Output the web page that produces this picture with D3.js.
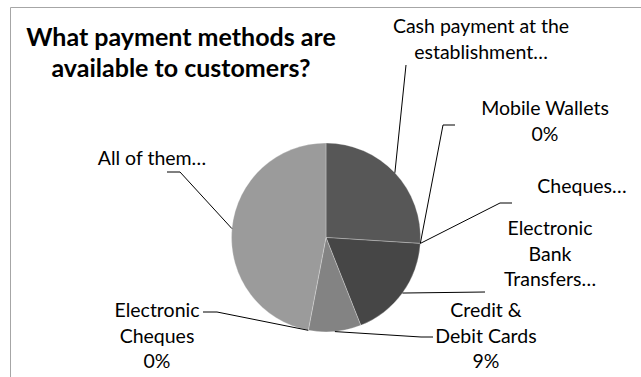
<!DOCTYPE html>
<html>
<head>
<meta charset="utf-8">
<script src="https://cdn.jsdelivr.net/npm/d3@7"></script>
<style>
  html, body { margin: 0; padding: 0; background: #ffffff; }
  svg { display: block; }
  text { font-family: Lato, "Open Sans", sans-serif; fill: #000; }
</style>
</head>
<body>
<svg id="chart" width="641" height="377"></svg>
<script>
// ---- data ----
const categories = [
  "Cash payment at the establishment",
  "Mobile Wallets",
  "Cheques",
  "Electronic Bank Transfers",
  "Credit & Debit Cards",
  "Electronic Cheques",
  "All of them"
];
const shares = [26, 0, 0, 18, 9, 0, 47];
// Label text as shown on the chart; long labels are cut with an ellipsis,
// "{p}" is replaced by the formatted share.
const labelTemplates = [
  ["Cash payment at the", "establishment…"],
  ["Mobile Wallets", "{p}"],
  ["Cheques…"],
  ["Electronic", "Bank", "Transfers…"],
  ["Credit &", "Debit Cards", "{p}"],
  ["Electronic", "Cheques", "{p}"],
  ["All of them…"]
];
const titleLines = ["What payment methods are", "available to customers?"];

// ---- layout ----
const W = 641, H = 377;
const cx = 326, cy = 237.5, R = 94.5;
const sliceColors = ["#575757", "#575757", "#575757", "#464646", "#838383", "#838383", "#9b9b9b"];
// label block: centre x, first baseline y; leader: bend points from label side toward the pie
const labelLayout = [
  { x: 481, y: 33,  leader: [[406, 65]] },
  { x: 545, y: 115, leader: [[455, 125], [443, 125]] },
  { x: 582, y: 193, leader: [[512, 203], [500, 203]] },
  { x: 550, y: 235, leader: [[485, 292]] },
  { x: 486, y: 317, leader: [[433, 337], [421, 337]] },
  { x: 157, y: 317, leader: [[203, 312], [217, 312]] },
  { x: 152, y: 165, leader: [[167, 172], [180, 172]] }
];
const lineGap = 25.5;

const svg = d3.select("#chart");

// chart area frame (top and left edges visible)
svg.append("path")
  .attr("d", `M10.5,${H} L10.5,7.5 L${W},7.5`)
  .attr("fill", "none")
  .attr("stroke", "#a6a6a6")
  .attr("stroke-width", 1);

// title
const title = svg.append("text")
  .attr("text-anchor", "middle")
  .attr("font-weight", "bold")
  .attr("font-size", 25);
title.selectAll("tspan").data(titleLines).join("tspan")
  .attr("x", 181)
  .attr("y", (d, i) => 46 + i * 31)
  .text(d => d);

// pie
const rows = categories.map((c, i) => ({ name: c, value: shares[i], i }));
const pie = d3.pie().sort(null).value(d => d.value);
const arcs = pie(rows);
const arc = d3.arc().innerRadius(0).outerRadius(R);

const g = svg.append("g").attr("transform", `translate(${cx},${cy})`);
g.selectAll("path.slice").data(arcs.filter(a => a.data.value > 0)).join("path")
  .attr("class", "slice")
  .attr("d", arc)
  .attr("fill", d => sliceColors[d.data.i])
  .attr("stroke", "rgba(255,255,255,0.35)")
  .attr("stroke-width", 0.8);

// leader lines from slice mid-angle on the rim to the label
const fmt = d3.format(".0%");
arcs.forEach(a => {
  const mid = (a.startAngle + a.endAngle) / 2;
  const rim = [cx + R * Math.sin(mid), cy - R * Math.cos(mid)];
  const lay = labelLayout[a.data.i];
  const pts = lay.leader.concat([rim]);
  svg.append("path")
    .attr("d", d3.line()(pts))
    .attr("fill", "none")
    .attr("stroke", "#000")
    .attr("stroke-width", 1);

  const lines = labelTemplates[a.data.i].map(t => t.replace("{p}", fmt(a.data.value / 100)));
  const t = svg.append("text")
    .attr("text-anchor", "middle")
    .attr("font-size", 19.5);
  t.selectAll("tspan").data(lines).join("tspan")
    .attr("x", lay.x)
    .attr("y", (d, k) => lay.y + k * lineGap)
    .text(d => d);
});
</script>
</body>
</html>
